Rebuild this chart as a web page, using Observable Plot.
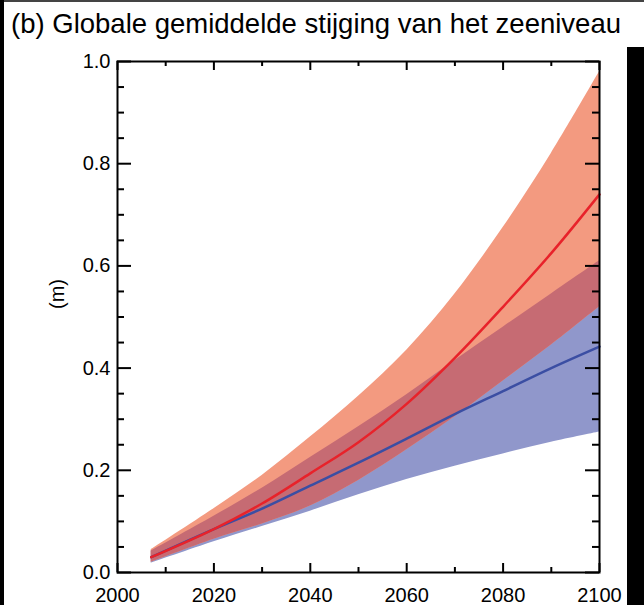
<!DOCTYPE html>
<html><head><meta charset="utf-8">
<script src="https://cdn.jsdelivr.net/npm/d3@7"></script>
<script src="https://cdn.jsdelivr.net/npm/@observablehq/plot@0.6"></script>
<style>
body{margin:0;background:#fff;}
#wrap{position:relative;width:644px;height:605px;overflow:hidden;font-family:"Liberation Sans",Arial,sans-serif;background:#fff;}
#title{position:absolute;left:11px;top:8px;font-size:27.5px;color:#000;white-space:nowrap;}
#chart{position:absolute;left:0;top:48px;}
#chart svg, #chart svg text{font-family:"Liberation Sans",Arial,sans-serif !important;font-size:20px !important;}
.edgeL{position:absolute;left:0;top:0;width:4px;height:605px;background:#000}
.edgeT{position:absolute;left:0;top:0;width:644px;height:2px;background:#444}
.edgeR{position:absolute;left:627px;top:47px;width:17px;height:558px;background:#000}
</style></head>
<body><div id="wrap">
<div class="edgeT"></div><div class="edgeL"></div>
<div id="title">(b) Globale gemiddelde stijging van het zeeniveau</div>
<div id="chart"></div>
<div class="edgeR"></div>
</div>
<script>
const years    = [2007, 2020, 2030, 2040, 2050, 2060, 2070, 2080, 2090, 2100];
const redMid   = [0.030, 0.085, 0.135, 0.194, 0.255, 0.330, 0.420, 0.520, 0.625, 0.740];
const redLow   = [0.020, 0.065, 0.095, 0.130, 0.180, 0.240, 0.305, 0.375, 0.445, 0.520];
const redHigh  = [0.045, 0.125, 0.190, 0.265, 0.345, 0.435, 0.545, 0.675, 0.820, 0.980];
const blueMid  = [0.030, 0.085, 0.125, 0.170, 0.215, 0.262, 0.310, 0.355, 0.400, 0.442];
const blueLow  = [0.018, 0.060, 0.090, 0.120, 0.152, 0.182, 0.208, 0.232, 0.255, 0.275];
const blueHigh = [0.042, 0.110, 0.165, 0.225, 0.285, 0.348, 0.415, 0.480, 0.545, 0.610];
const xMajor = [2000, 2020, 2040, 2060, 2080, 2100];
const xMinor = [2010, 2030, 2050, 2070, 2090];
const yMajor = [0.0, 0.2, 0.4, 0.6, 0.8, 1.0];
const yMinor = d3.range(0, 1.0001, 0.05).filter(v => Math.abs(v*5 - Math.round(v*5)) > 1e-6);
const yTitle = ["(m)"];

const ovLow  = years.map((_, i) => Math.max(redLow[i], blueLow[i]));
const ovHigh = years.map((_, i) => Math.min(redHigh[i], blueHigh[i]));

const W = 644, H = 557, mt = 13, mb = 33, ml = 117, mr = 45;
const iw = W - ml - mr, ih = H - mt - mb;
const curve = "catmull-rom";

const chart = Plot.plot({
  width: W, height: H,
  marginTop: mt, marginBottom: mb, marginLeft: ml, marginRight: mr,
  style: {color: "#000", background: "transparent", fontFamily: "Liberation Sans, Arial, sans-serif", fontSize: "20px"},
  x: {domain: [2000, 2100], label: null},
  y: {domain: [0, 1.0], label: null},
  marks: [
    Plot.areaY(years, {x: years, y1: blueLow, y2: blueHigh, fill: "#9097cb", curve}),
    Plot.areaY(years, {x: years, y1: redLow, y2: redHigh, fill: "#f39a80", curve}),
    Plot.areaY(years, {x: years, y1: ovLow, y2: ovHigh, fill: "#c66b73", curve}),
    Plot.line(years, {x: years, y: blueMid, stroke: "#3b4ea3", strokeWidth: 2.5, curve}),
    Plot.line(years, {x: years, y: redMid, stroke: "#e8222a", strokeWidth: 2.5, curve}),
    Plot.ruleX(xMajor, {stroke: "#000", strokeWidth: 2, insetTop: ih - 9}),
    Plot.ruleX(xMajor, {stroke: "#000", strokeWidth: 2, insetBottom: ih - 9}),
    Plot.ruleX(xMinor, {stroke: "#000", strokeWidth: 2, insetTop: ih - 5}),
    Plot.ruleX(xMinor, {stroke: "#000", strokeWidth: 2, insetBottom: ih - 5}),
    Plot.ruleY(yMajor, {stroke: "#000", strokeWidth: 2, insetRight: iw - 14}),
    Plot.ruleY(yMajor, {stroke: "#000", strokeWidth: 2, insetLeft: iw - 14}),
    Plot.ruleY(yMinor, {stroke: "#000", strokeWidth: 2, insetRight: iw - 7}),
    Plot.ruleY(yMinor, {stroke: "#000", strokeWidth: 2, insetLeft: iw - 7}),
    Plot.frame({stroke: "#000", strokeWidth: 2}),
    Plot.axisX({ticks: xMajor, tickSize: 0, tickPadding: 15, tickFormat: d => String(d), label: null}),
    Plot.axisY({ticks: yMajor, tickSize: 0, tickPadding: 7, tickFormat: d3.format(".1f"), label: null}),
    Plot.text(yTitle, {text: d => d, frameAnchor: "left", rotate: -90, dx: -60, dy: -8, fill: "#000"})
  ]
});
document.getElementById("chart").appendChild(chart);
</script>
</body></html>
